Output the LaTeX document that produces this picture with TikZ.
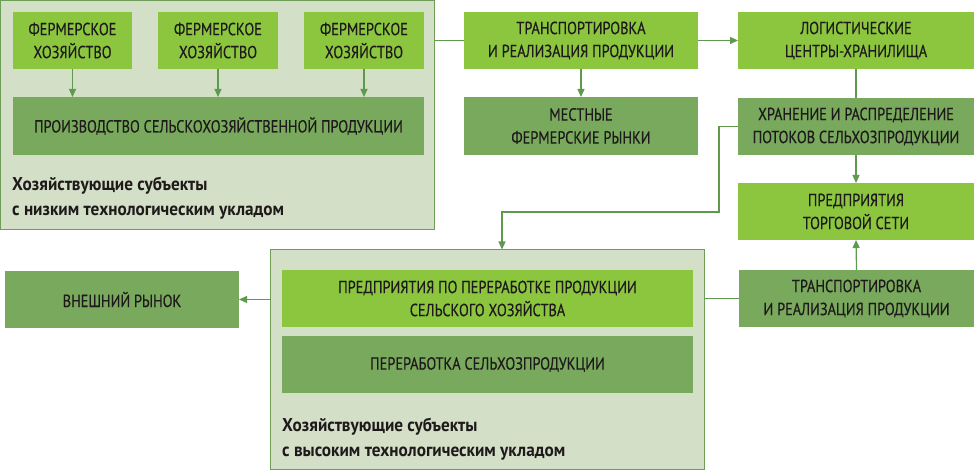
\documentclass[tikz,border=0pt]{standalone}
\usepackage{fontspec}
\setmainfont[FakeStretch=0.82,FakeBold=0.4]{PT Sans}
\newfontfamily\labfont[FakeStretch=0.93]{PT Sans}
\usetikzlibrary{arrows.meta}
\definecolor{lgreen}{HTML}{8CC63F}
\definecolor{dgreen}{HTML}{79A95C}
\definecolor{panelbg}{HTML}{D3DFC6}
\definecolor{panelbd}{HTML}{6E9D58}
\definecolor{linec}{HTML}{5E9A4E}
\definecolor{txt}{HTML}{1E1A1B}
\tikzset{
  box/.style={rectangle, inner sep=0pt, outer sep=0pt, align=center, text=txt, font=\fontsize{17.5}{23}\selectfont},
  lbox/.style={box, fill=lgreen},
  dbox/.style={box, fill=dgreen},
  panel/.style={rectangle, inner sep=0pt, outer sep=0pt, fill=panelbg, draw=panelbd, line width=1.3pt},
  plabel/.style={anchor=north west, inner sep=0pt, align=left, text=txt, font=\labfont\bfseries\fontsize{18.5}{25}\selectfont},
  conn/.style={draw=linec, line width=1.2pt},
  arr/.style={conn, -{Triangle[length=8pt,width=7pt]}},
}
\begin{document}
\begin{tikzpicture}[x=1pt,y=-1pt]
\useasboundingbox (0,0) rectangle (974,470);
% panel 1
\node[panel, minimum width=434pt, minimum height=229pt] (panel1) at (217.5,115) {};
\node[lbox, minimum width=119pt, minimum height=57pt] (farm1) at (72.5,40.5) {ФЕРМЕРСКОЕ\\ХОЗЯЙСТВО};
\node[lbox, minimum width=120pt, minimum height=57pt] (farm2) at (218,40.5) {ФЕРМЕРСКОЕ\\ХОЗЯЙСТВО};
\node[lbox, minimum width=120pt, minimum height=57pt] (farm3) at (364,40.5) {ФЕРМЕРСКОЕ\\ХОЗЯЙСТВО};
\node[dbox, minimum width=411pt, minimum height=58pt] (prod) at (218.5,126) {ПРОИЗВОДСТВО СЕЛЬСКОХОЗЯЙСТВЕННОЙ ПРОДУКЦИИ};
\node[plabel] (lab1) at (12,177) {Хозяйствующие субъекты\\с низким технологическим укладом};
% right column
\node[lbox, minimum width=234pt, minimum height=57pt] (trans1) at (581,40.5) {ТРАНСПОРТИРОВКА\\И РЕАЛИЗАЦИЯ ПРОДУКЦИИ};
\node[lbox, minimum width=236pt, minimum height=57pt] (logist) at (856,40.5) {ЛОГИСТИЧЕСКИЕ\\ЦЕНТРЫ-ХРАНИЛИЩА};
\node[dbox, minimum width=234pt, minimum height=58pt] (market) at (581,126) {МЕСТНЫЕ\\ФЕРМЕРСКИЕ РЫНКИ};
\node[dbox, minimum width=236pt, minimum height=57pt] (store) at (856,126.5) {ХРАНЕНИЕ И РАСПРЕДЕЛЕНИЕ\\ПОТОКОВ СЕЛЬХОЗПРОДУКЦИИ};
\node[lbox, minimum width=236pt, minimum height=57pt] (trade) at (856,211.5) {ПРЕДПРИЯТИЯ\\ТОРГОВОЙ СЕТИ};
\node[dbox, minimum width=235pt, minimum height=57pt] (trans2) at (856.5,298.5) {ТРАНСПОРТИРОВКА\\И РЕАЛИЗАЦИЯ ПРОДУКЦИИ};
% panel 2
\node[panel, minimum width=434pt, minimum height=220pt] (panel2) at (487.5,359.5) {};
\node[lbox, minimum width=411pt, minimum height=57pt] (proc1) at (487.5,298.5) {ПРЕДПРИЯТИЯ ПО ПЕРЕРАБОТКЕ ПРОДУКЦИИ\\СЕЛЬСКОГО ХОЗЯЙСТВА};
\node[dbox, minimum width=411pt, minimum height=57pt] (proc2) at (487.5,364.5) {ПЕРЕРАБОТКА СЕЛЬХОЗПРОДУКЦИИ};
\node[plabel] (lab2) at (282,418) {Хозяйствующие субъекты\\с высоким технологическим укладом};
\node[dbox, minimum width=234pt, minimum height=57pt] (ext) at (122,299.5) {ВНЕШНИЙ РЫНОК};
% connectors
\draw[arr] (farm1.south) -- (farm1.south |- prod.north);
\draw[arr] (farm2.south) -- (farm2.south |- prod.north);
\draw[arr] (farm3.south) -- (farm3.south |- prod.north);
\draw[conn] (trans1.west -| panel1.east) -- (trans1.west);
\draw[arr] (trans1.east) -- (logist.west);
\draw[arr] (trans1.south) -- (market.north);
\draw[conn] (logist.south) -- (store.north);
\draw[arr] (store.south) -- (trade.north);
\coordinate (c1) at (719,126.5);
\coordinate (c2) at (719,212);
\coordinate (c3) at (502,212);
\draw[arr] (store.west) -- (c1) -- (c2) -- (c3) -- (c3 |- panel2.north);
\draw[arr] (panel2.west |- ext.east) -- (ext.east);
\draw[conn] (trans2.west) -- (trans2.west -| panel2.east);
\draw[arr] (trans2.north) -- (trade.south);
\end{tikzpicture}
\end{document}
